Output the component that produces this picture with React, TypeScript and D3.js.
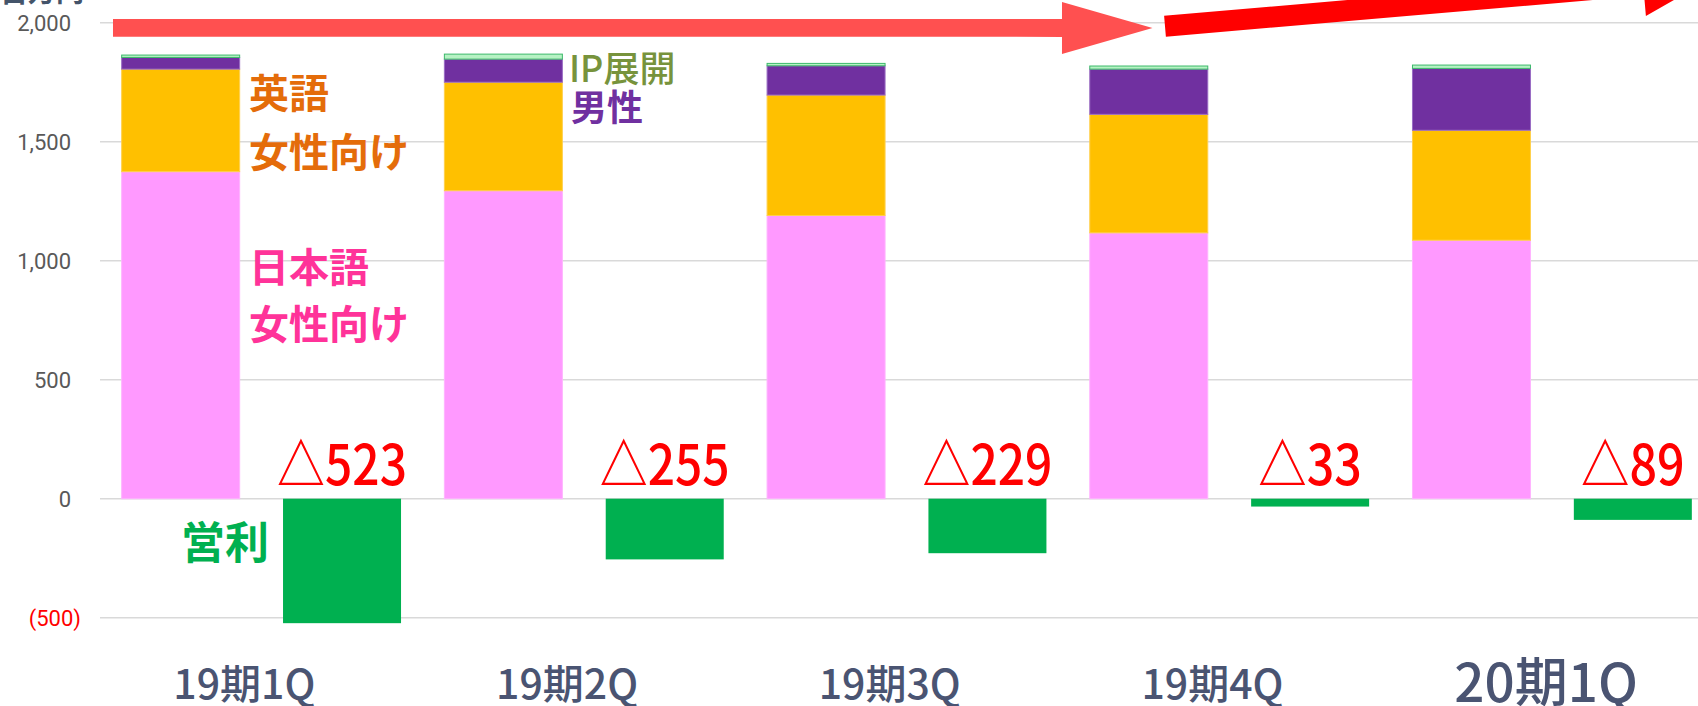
import React from "react";
import * as d3 from "d3";

const width = 1698;
const height = 706;

// 百万円, quarterly
const categories = ["19期1Q", "19期2Q", "19期3Q", "19期4Q", "20期1Q"];
const japaneseFemale = [1374, 1294, 1190, 1117, 1086];
const englishFemale = [431, 456, 506, 498, 462];
const maleTitles = [49, 97, 123, 190, 260];
const ipDevelopment = [10, 21, 10, 13, 14];
const operatingProfit = [-523, -255, -229, -33, -89];
const yTicks = [-500, 0, 500, 1000, 1500, 2000];

const seriesKeys = ["japanese", "english", "male", "ip"];
const seriesColor: Record<string, string> = {
  japanese: "#ff99ff",
  english: "#ffc000",
  male: "#7030a0",
  ip: "#b6f2c4",
};
const seriesStroke: Record<string, string> = {
  japanese: "#ffb3ff",
  english: "#ffd04d",
  male: "#9a6cc4",
  ip: "#3cb96a",
};

const cjk = "'Noto Sans CJK JP', 'Noto Sans', sans-serif";

// text call-outs placed next to the first two bars
const callouts = [
  { text: "英語", x: 249, y: 108, size: 40, color: "#e46c0a", weight: 700 },
  { text: "女性向け", x: 249, y: 167, size: 40, color: "#e46c0a", weight: 700 },
  { text: "日本語", x: 249, y: 282, size: 40, color: "#ff3399", weight: 700 },
  { text: "女性向け", x: 249, y: 339, size: 40, color: "#ff3399", weight: 700 },
  { text: "IP展開", x: 569, y: 82, size: 36, color: "#77933c", weight: 500 },
  { text: "男性", x: 571, y: 121, size: 36, color: "#7030a0", weight: 700 },
  { text: "営利", x: 181, y: 559, size: 44, color: "#00b050", weight: 700 },
];

// decorative arrows across the top
const arrows = [
  { x0: 113, y0: 27.8, x1: 1152.5, y1: 28, shaft: 8.9, headLen: 90.5, headHalf: 26, color: "#ff5050" },
  { x0: 1165, y0: 26.2, x1: 1710, y1: -20.6, shaft: 10.5, headLen: 67, headHalf: 31, color: "#ff0000" },
];

function arrowPoints(a: typeof arrows[number]) {
  const dx = a.x1 - a.x0;
  const dy = a.y1 - a.y0;
  const len = Math.hypot(dx, dy);
  const ux = dx / len, uy = dy / len;
  const px = -uy, py = ux;
  const bx = a.x1 - ux * a.headLen, by = a.y1 - uy * a.headLen;
  const pts = [
    [a.x0 + px * a.shaft, a.y0 + py * a.shaft],
    [bx + px * a.shaft, by + py * a.shaft],
    [bx + px * a.headHalf, by + py * a.headHalf],
    [a.x1, a.y1],
    [bx - px * a.headHalf, by - py * a.headHalf],
    [bx - px * a.shaft, by - py * a.shaft],
    [a.x0 - px * a.shaft, a.y0 - py * a.shaft],
  ];
  return pts.map((p) => p.join(",")).join(" ");
}

export default function App() {
  const rows = categories.map((c, i) => ({
    category: c,
    japanese: japaneseFemale[i],
    english: englishFemale[i],
    male: maleTitles[i],
    ip: ipDevelopment[i],
  }));
  const stacked = d3.stack<any>().keys(seriesKeys)(rows);

  const x = d3.scaleBand().domain(categories).range([100, 1713.5]).padding(0);
  const inner = d3
    .scaleBand()
    .domain(["sales", "profit"])
    .range([0, x.bandwidth()])
    .paddingInner(0.2687)
    .paddingOuter(0.1343);
  const y = d3.scaleLinear().domain([-500, 2000]).range([617.7, 22.7]);
  const bw = inner.bandwidth();
  const fmt = d3.format(",");

  return (
    <svg
      width={width}
      height={height}
      style={{ position: "absolute", left: 0, top: 0, display: "block", background: "#fff" }}
    >
      <text x={0} y={2} fontFamily={cjk} fontSize={28} fontWeight={700} fill="#44546a">
        百万円
      </text>

      {yTicks.map((t) => (
        <g key={t}>
          <line x1={100} x2={width} y1={y(t)} y2={y(t)} stroke="#d9d9d9" strokeWidth={1.5} />
          <text
            x={t < 0 ? 81 : 71}
            y={y(t)}
            dy="0.36em"
            textAnchor="end"
            fontFamily="Roboto, sans-serif"
            fontSize={22}
            fill={t < 0 ? "#ff0000" : "#595959"}
          >
            {t < 0 ? `(${fmt(-t)})` : fmt(t)}
          </text>
        </g>
      ))}

      {stacked.map((s) => (
        <g key={s.key} fill={seriesColor[s.key]} stroke={seriesStroke[s.key]} strokeWidth={1}>
          {s.map((d: any, i: number) => (
            <rect
              key={i}
              x={(x(categories[i]) as number) + (inner("sales") as number)}
              y={y(d[1])}
              width={bw}
              height={Math.max(0, y(d[0]) - y(d[1]))}
            />
          ))}
        </g>
      ))}

      {operatingProfit.map((v, i) => (
        <rect
          key={i}
          x={(x(categories[i]) as number) + (inner("profit") as number)}
          y={y(Math.max(0, v))}
          width={bw}
          height={Math.abs(y(v) - y(0))}
          fill="#00b050"
        />
      ))}

      {operatingProfit.map((v, i) => {
        const label = `△${Math.abs(v)}`;
        const digits = String(Math.abs(v)).length;
        return (
          <text
            key={i}
            x={(x(categories[i]) as number) + (inner("profit") as number) + bw / 2}
            y={y(0) - 14}
            textAnchor="middle"
            fontFamily={cjk}
            fontWeight={500}
            fontSize={56}
            fill="#ff0000"
            textLength={51 + digits * 26.3}
            lengthAdjust="spacingAndGlyphs"
          >
            {label}
          </text>
        );
      })}

      {categories.map((c, i) => {
        const last = i === categories.length - 1;
        return (
          <text
            key={c}
            x={(x(c) as number) + x.bandwidth() / 2 + (last ? -6 : -17)}
            y={last ? 702 : 699}
            textAnchor="middle"
            fontFamily={cjk}
            fontWeight={500}
            fontSize={last ? 53 : 41}
            fill="#4a5472"
          >
            {c}
          </text>
        );
      })}

      {callouts.map((c, i) => (
        <text
          key={i}
          x={c.x}
          y={c.y}
          fontFamily={cjk}
          fontSize={c.size}
          fontWeight={c.weight}
          fill={c.color}
        >
          {c.text}
        </text>
      ))}

      {arrows.map((a, i) => (
        <polygon key={i} points={arrowPoints(a)} fill={a.color} />
      ))}
    </svg>
  );
}
